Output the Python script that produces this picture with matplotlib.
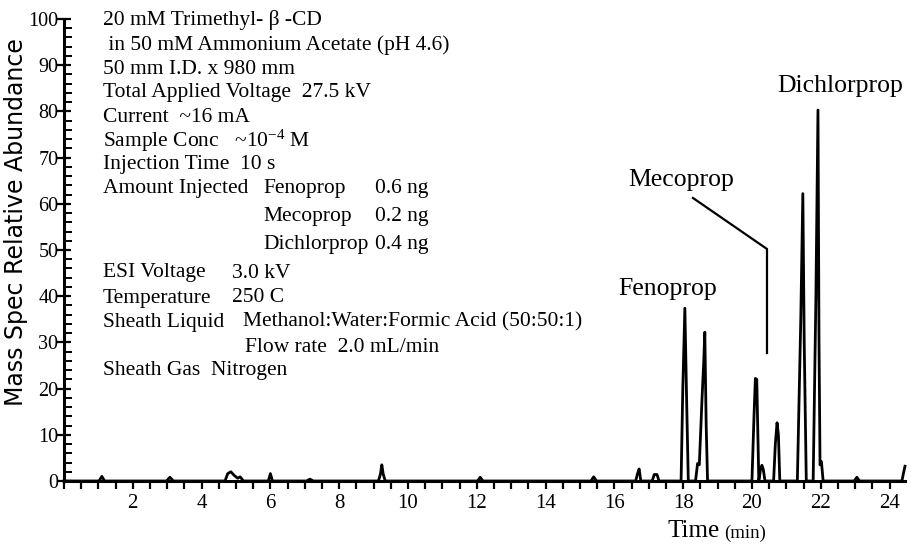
import matplotlib
matplotlib.use("Agg")
import matplotlib.pyplot as plt
from matplotlib.ticker import MultipleLocator

plt.rcParams['font.family'] = ['Liberation Serif', 'DejaVu Serif']
plt.rcParams['mathtext.fontset'] = 'custom'
plt.rcParams['mathtext.rm'] = 'Liberation Serif'
plt.rcParams['mathtext.it'] = 'Liberation Serif:italic'

# ---- data: electropherogram trace vertices (time in min, relative abundance) ----
trace_time = [0.0, 1.02, 1.1, 1.18,
              2.98, 3.08, 3.18,
              4.68, 4.76, 4.85, 4.95, 5.05, 5.12, 5.22,
              5.94, 6.0, 6.06,
              7.05, 7.15, 7.25,
              9.14, 9.2, 9.24, 9.28, 9.34,
              12.02, 12.1, 12.18,
              15.32, 15.4, 15.48,
              16.62, 16.67, 16.72, 16.77,
              17.1, 17.16, 17.24, 17.3,
              17.94, 17.99, 18.05, 18.1, 18.15,
              18.36, 18.42, 18.47, 18.55, 18.6, 18.63, 18.67, 18.71,
              20.0, 20.06, 20.1, 20.14, 20.2, 20.25, 20.29, 20.33, 20.38,
              20.63, 20.68, 20.73, 20.77, 20.81,
              21.32, 21.42, 21.48, 21.52, 21.58,
              21.78, 21.86, 21.92, 21.95, 21.98, 22.02, 22.07,
              22.97, 23.05, 23.13,
              24.36, 24.4, 24.45]
trace_abundance = [0, 0, 1.0, 0,
                   0, 0.8, 0,
                   0, 1.6, 2.0, 1.2, 0.6, 0.9, 0,
                   0, 1.6, 0,
                   0, 0.4, 0,
                   0, 1.5, 3.5, 1.5, 0,
                   0, 0.8, 0,
                   0, 0.9, 0,
                   0, 1.5, 2.6, 0,
                   0, 1.4, 1.4, 0,
                   0, 20, 37.4, 18, 0,
                   0, 3.8, 3.5, 18, 26, 32.2, 12, 0,
                   0, 14, 22.2, 22.0, 0, 2.5, 3.4, 2.5, 0,
                   0, 8, 12.6, 10, 0,
                   0, 35, 62.2, 30, 0,
                   0, 40, 80.3, 30, 3.5, 4.2, 0,
                   0, 0.8, 0,
                   0, 1.5, 3.2]

peak_names = ["Fenoprop", "Mecoprop", "Dichlorprop"]
x_ticks = [2, 4, 6, 8, 10, 12, 14, 16, 18, 20, 22, 24]
y_ticks = [0, 10, 20, 30, 40, 50, 60, 70, 80, 90, 100]

conditions = [
    ["20 mM Trimethyl- \u03b2 -CD"],
    [" in 50 mM Ammonium Acetate (pH 4.6)"],
    ["50 mm I.D. x 980 mm"],
    ["Total Applied Voltage  27.5 kV"],
    ["Current  ~16 mA"],
    ["Sample Conc   ~10$^{-4}$ M"],
    ["Injection Time  10 s"],
    ["Amount Injected", "Fenoprop", "0.6 ng"],
    ["", "Mecoprop", "0.2 ng"],
    ["", "Dichlorprop", "0.4 ng"],
    ["ESI Voltage", "3.0 kV"],
    ["Temperature", "250 C"],
    ["Sheath Liquid", "Methanol:Water:Formic Acid (50:50:1)"],
    ["", "Flow rate  2.0 mL/min"],
    ["Sheath Gas  Nitrogen"],
]

# ---- figure ----
W, H = 911, 549
fig = plt.figure(figsize=(W / 100, H / 100), dpi=100)
x0, x1, y0, y1 = 64, 905, 481, 19
ax = fig.add_axes([x0 / W, (H - y0) / H, (x1 - x0) / W, (y0 - y1) / H])
ax.set_xlim(0, 24.45)
ax.set_ylim(0, 100)

ax.plot(trace_time, trace_abundance, color='black', lw=2.0, clip_on=False, zorder=3)

for s in ['top', 'right']:
    ax.spines[s].set_visible(False)
for s in ['left', 'bottom']:
    ax.spines[s].set_linewidth(2.2)

ax.set_xticks(x_ticks)
ax.set_xticklabels([str(t) for t in x_ticks])
ax.xaxis.set_minor_locator(MultipleLocator(0.5))
ax.set_yticks(y_ticks)
ax.set_yticklabels([str(t) for t in y_ticks])
ax.yaxis.set_minor_locator(MultipleLocator(2))
ax.tick_params(axis='x', which='both', direction='out', length=6, width=1.6,
               labelsize=15, pad=3)
ax.tick_params(axis='y', which='major', direction='inout', length=10, width=1.6,
               labelsize=14.5, pad=-1)
ax.tick_params(axis='y', which='minor', direction='in', length=6, width=1.4)

# pixel -> data helpers
def tx(px):
    return (px - x0) / (x1 - x0) * 24.45

def vy(py):
    return (y0 - py) / (y0 - y1) * 100

ax.set_ylabel("Mass Spec Relative Abundance", family=['DejaVu Sans'],
              fontsize=17)
ax.yaxis.set_label_coords(-0.043, 0.56)

ax.text(tx(720), vy(531), "Time", fontsize=18, ha='right', va='center')
ax.text(tx(724), vy(533), "(min)", fontsize=13.5, ha='left', va='center')

FS = 15.5
# condition text block
line_y = [20, 45, 69, 93, 117, 141, 164, 188, 216, 244, 273, 298, 322, 347, 371]
for row, py in zip(conditions, line_y):
    if len(row) == 1:
        ax.text(tx(103), vy(py), row[0], fontsize=FS, va='center', ha='left')
    elif len(row) == 3:
        if row[0]:
            ax.text(tx(103), vy(py), row[0], fontsize=FS, va='center', ha='left')
        ax.text(tx(263), vy(py), row[1], fontsize=FS, va='center', ha='left')
        ax.text(tx(375), vy(py), row[2], fontsize=FS, va='center', ha='left')
    else:
        if row[0]:
            ax.text(tx(103), vy(py), row[0], fontsize=FS, va='center', ha='left')
            ax.text(tx(232 if row[0] != "Sheath Liquid" else 243), vy(py), row[1],
                    fontsize=FS, va='center', ha='left')
        else:
            ax.text(tx(245), vy(py), row[1], fontsize=FS, va='center', ha='left')

# peak labels
ax.text(tx(668), vy(289), peak_names[0], fontsize=18.5, ha='center', va='center')
ax.text(tx(681), vy(180), peak_names[1], fontsize=18.5, ha='center', va='center')
ax.text(tx(840), vy(86), peak_names[2], fontsize=18.5, ha='center', va='center')
ax.plot([tx(693), tx(767), tx(767)], [vy(198), vy(249), vy(353)],
        color='black', lw=1.6)

fig.savefig("out.png", dpi=100)
